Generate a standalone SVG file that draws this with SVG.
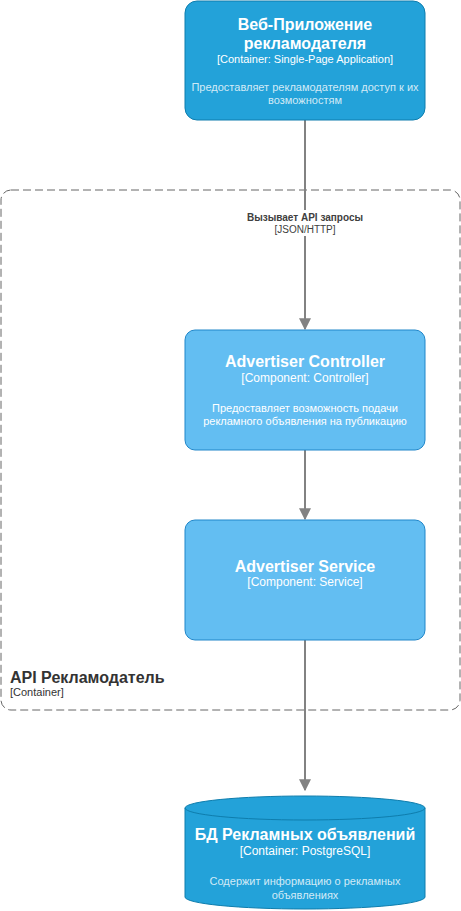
<svg xmlns="http://www.w3.org/2000/svg" width="461" height="911" viewBox="0 0 461 911">
<style>
text{font-family:"Liberation Sans",Arial,sans-serif;text-anchor:middle}
.t{font-size:16px;font-weight:bold;fill:#fff}
.k{font-size:11px;fill:#fff}
.k2{font-size:12px;fill:#fff}
.d{font-size:11px;fill:#fff;fill-opacity:.8}
.cont{fill:#23A2D9;stroke:#0E7DAD}
.comp{fill:#63BEF2;stroke:#2086C9}
.e{stroke:#828282;stroke-width:2;fill:none}
</style>
<defs>
<marker id="a" viewBox="0 0 10 10" refX="9" refY="5" markerWidth="6" markerHeight="6" orient="auto" markerUnits="strokeWidth"><path d="M0,0L10,5L0,10z" fill="#828282"/></marker>
</defs>
<g id="boundary">
<rect x="1" y="190" width="459" height="520" rx="10" fill="none" stroke="#666" stroke-dasharray="8 4"/>
<text x="10" y="683" style="text-anchor:start;font-size:16px;font-weight:bold;fill:#333">API Рекламодатель</text>
<text x="10" y="696" style="text-anchor:start;font-size:11px;fill:#333">[Container]</text>
</g>
<g id="edges">
<path class="e" d="M305,120V329" marker-end="url(#a)"/>
<rect x="243" y="210" width="124" height="26" fill="#fff"/>
<text x="305" y="221" style="font-size:10px;font-weight:bold;fill:#404040">Вызывает API запросы</text>
<text x="305" y="233" style="font-size:10px;fill:#404040">[JSON/HTTP]</text>
<path class="e" d="M305,450V519" marker-end="url(#a)"/>
<path class="e" d="M305,640V790" marker-end="url(#a)"/>
</g>
<g id="webapp">
<rect class="cont" x="185" y="1" width="240" height="119" rx="12"/>
<text class="t" x="305" y="30">Веб-Приложение</text>
<text class="t" x="305" y="49">рекламодателя</text>
<text class="k" x="305" y="63">[Container: Single-Page Application]</text>
<text class="d" x="305" y="91">Предоставляет рекламодателям доступ к их</text>
<text class="d" x="305" y="104">возможностям</text>
</g>
<g id="controller">
<rect class="comp" x="185" y="330" width="240" height="120" rx="10"/>
<text class="t" x="305" y="367">Advertiser Controller</text>
<text class="k2" x="305" y="382">[Component: Controller]</text>
<text class="k" x="305" y="412">Предоставляет возможность подачи</text>
<text class="k" x="305" y="425">рекламного объявления на публикацию</text>
</g>
<g id="service">
<rect class="comp" x="185" y="520" width="240" height="120" rx="10"/>
<text class="t" x="305" y="572">Advertiser Service</text>
<text class="k2" x="305" y="586">[Component: Service]</text>
</g>
<g id="db">
<path class="cont" d="M185,808a120,12 0 0 1 240,0V897a120,12 0 0 1 -240,0Z"/>
<path d="M185,808a120,12 0 0 0 240,0" fill="none" stroke="#0E7DAD"/>
<text class="t" x="305" y="840">БД Рекламных объявлений</text>
<text class="k2" x="305" y="855">[Container: PostgreSQL]</text>
<text class="d" x="305" y="885">Содержит информацию о рекламных</text>
<text class="d" x="305" y="899">объявлениях</text>
</g>
</svg>
